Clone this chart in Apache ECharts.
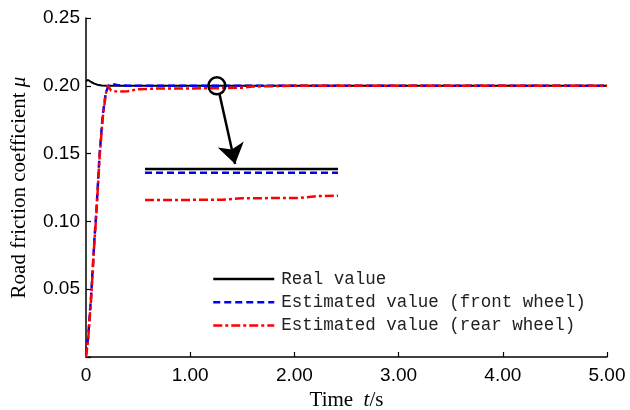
<!DOCTYPE html>
<html><head><meta charset="utf-8">
<script src="https://cdn.jsdelivr.net/npm/echarts@6/dist/echarts.min.js"></script>
<style>html,body{margin:0;padding:0;background:#fff}#c{width:630px;height:410px}</style>
</head><body><div id="c"></div>
<script>
// Main curves: [time s, mu]
const realValue = [[0,0.2035],[0.02,0.2043],[0.05,0.2028],[0.08,0.2016],[0.11,0.2008],[0.15,0.2003],[0.2,0.2001],[0.3,0.2],[1,0.2],[2,0.2],[3,0.2],[4,0.2],[5,0.2]];
const frontWheel = [[0,0.002],[0.02,0.014],[0.05,0.046],[0.08,0.086],[0.1,0.108],[0.13,0.149],[0.16,0.178],[0.19,0.195],[0.22,0.2005],[0.25,0.2012],[0.3,0.2006],[0.4,0.2001],[0.6,0.2],[1,0.2],[2,0.2],[3,0.2],[4,0.2],[5,0.2]];
const rearWheel = [[0,0],[0.02,0.012],[0.05,0.044],[0.08,0.084],[0.1,0.106],[0.13,0.147],[0.16,0.176],[0.19,0.194],[0.21,0.2003],[0.24,0.1965],[0.3,0.1957],[0.4,0.196],[0.5,0.1975],[0.7,0.198],[1.0,0.198],[1.3,0.1983],[1.5,0.1986],[1.6,0.1995],[2,0.2],[3,0.2],[4,0.2],[5,0.2]];
// Inset (magnified detail around the circled point)
const insetReal = [[1.2,0.2],[1.4,0.2]];
const insetFront = [[1.2,0.19975],[1.4,0.19975]];
const insetRear = [[1.2,0.19793],[1.28,0.19795],[1.30,0.19805],[1.36,0.19807],[1.38,0.1982],[1.4,0.19822]];
// Annotation
const circlePoint = [[1.256,0.2]];
const arrowFrom = [1.281,0.194];
const arrowTo = [1.431,0.1423];
const legendNames = ['Real value','Estimated value (front wheel)','Estimated value (rear wheel)'];

const chart = echarts.init(document.getElementById('c'));
const axisCommon = {
  axisLine:{lineStyle:{color:'#000',width:1.5}},
  axisTick:{inside:true,length:5,lineStyle:{color:'#000',width:1.2}},
  splitLine:{show:false}
};
const nameRich = {n:{fontFamily:'Liberation Serif',fontSize:21,color:'#000'},i:{fontFamily:'Liberation Serif',fontStyle:'italic',fontSize:21,color:'#000'}};
chart.setOption({
  animation:false,
  backgroundColor:'#fff',
  grid:[
    {left:86,right:23,top:18,bottom:53,containLabel:false,outerBoundsMode:'none'},
    {left:145,width:193,top:161.5,height:45,containLabel:false,outerBoundsMode:'none'}
  ],
  legend:{
    data:legendNames, orient:'vertical', left:212, top:270, padding:0,
    itemWidth:61, itemHeight:18, itemGap:5.3,
    itemStyle:{opacity:0,color:'rgba(0,0,0,0)',borderWidth:0},
    lineStyle:{width:2.5},
    textStyle:{fontFamily:'Liberation Mono',fontSize:17.5,color:'#222',padding:[0,0,0,2]}
  },
  xAxis:[
    Object.assign({type:'value',gridIndex:0,min:0,max:5,interval:1,
      name:'{n|Time  }{i|t}{n|/s}',nameLocation:'middle',nameGap:30,
      nameTextStyle:{rich:nameRich},
      axisLabel:{fontFamily:'Liberation Sans',fontSize:19,color:'#000',margin:9,
        formatter:v=>v===0?'0':v.toFixed(2)}},axisCommon),
    {type:'value',gridIndex:1,min:1.2,max:1.4,show:false}
  ],
  yAxis:[
    Object.assign({type:'value',gridIndex:0,min:0,max:0.25,interval:0.05,
      name:'{n|Road friction coefficient }{i|μ}',nameLocation:'middle',nameGap:56,nameRotate:90,
      nameTextStyle:{rich:nameRich},
      axisLabel:{fontFamily:'Liberation Sans',fontSize:19,color:'#000',margin:6,
        formatter:v=>v===0?'':v.toFixed(2)}},axisCommon),
    {type:'value',gridIndex:1,min:0.1975,max:0.2005,show:false}
  ],
  series:[
    {name:legendNames[0],type:'line',data:realValue,symbol:'none',xAxisIndex:0,yAxisIndex:0,
      lineStyle:{color:'#000',width:2},itemStyle:{color:'#000'}},
    {name:legendNames[1],type:'line',data:frontWheel,symbol:'none',
      lineStyle:{color:'#0000ff',width:2.5,type:[7,4]},itemStyle:{color:'#0000ff'}},
    {name:legendNames[2],type:'line',data:rearWheel,symbol:'none',
      lineStyle:{color:'#ff0000',width:2.5,type:[9,3,3,3]},itemStyle:{color:'#ff0000'}},
    {name:'inset-real',type:'line',data:insetReal,symbol:'none',xAxisIndex:1,yAxisIndex:1,
      lineStyle:{color:'#000',width:2.5}},
    {name:'inset-front',type:'line',data:insetFront,symbol:'none',xAxisIndex:1,yAxisIndex:1,
      lineStyle:{color:'#0000ff',width:2.5,type:[7,4]}},
    {name:'inset-rear',type:'line',data:insetRear,symbol:'none',xAxisIndex:1,yAxisIndex:1,
      lineStyle:{color:'#ff0000',width:2.5,type:[9,3,3,3]}},
    {name:'circle',type:'scatter',data:circlePoint,symbol:'circle',symbolSize:17,z:5,
      itemStyle:{color:'rgba(0,0,0,0)',borderColor:'#000',borderWidth:2.5,opacity:1}},
    {name:'arrow',type:'lines',coordinateSystem:'cartesian2d',xAxisIndex:0,yAxisIndex:0,z:5,
      symbol:['none','arrow'],symbolSize:20,
      lineStyle:{color:'#000',width:2.5,opacity:1,curveness:0},
      data:[{coords:[arrowFrom,arrowTo]}]}
  ]
});
</script></body></html>
